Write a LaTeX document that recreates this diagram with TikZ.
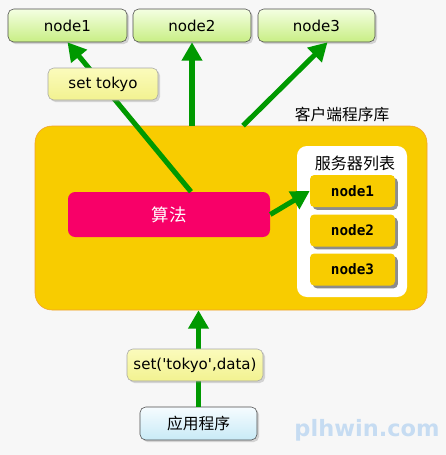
\documentclass[tikz,border=0pt]{standalone}
\usepackage{fontspec}
\setmainfont{DejaVu Sans}
\setmonofont{DejaVu Sans Mono}
\newfontfamily\cjk{Noto Sans CJK SC}
\usetikzlibrary{arrows.meta,shadows}
\definecolor{bggray}{HTML}{F7F7F7}
\definecolor{flowgreen}{HTML}{009900}
\definecolor{libgold}{HTML}{F8CC00}
\definecolor{libedge}{HTML}{F0A030}
\definecolor{algopink}{HTML}{F80068}
\definecolor{srvtop}{HTML}{F4FFE2}
\definecolor{srvbot}{HTML}{C8EE84}
\definecolor{notetop}{HTML}{FBFBBC}
\definecolor{notebot}{HTML}{F2F290}
\definecolor{apptop}{HTML}{F6FCFF}
\definecolor{appbot}{HTML}{C8EAF6}
\definecolor{markblue}{HTML}{C6DCF2}
\begin{document}
\begin{tikzpicture}[x=0.025cm,y=-0.025cm,
  every node/.style={font=\fontsize{10.7}{13}\selectfont},
  srvbox/.style={draw=black!70,rounded corners=4pt,top color=srvtop,bottom color=srvbot,
    drop shadow={shadow xshift=1.5pt,shadow yshift=-1.5pt,opacity=.3},
    minimum width=118*\pxu,minimum height=33*\pxu},
  notebox/.style={draw=black!35,rounded corners=4pt,top color=notetop,bottom color=notebot,
    drop shadow={shadow xshift=1.5pt,shadow yshift=-1.5pt,opacity=.3},
    minimum height=32*\pxu},
  listbox/.style={fill=libgold,rounded corners=3pt,
    drop shadow={shadow xshift=2pt,shadow yshift=-2pt,fill=black!45,opacity=1},
    minimum width=85*\pxu,minimum height=32*\pxu,
    font=\fontsize{10.2}{12}\selectfont\ttfamily\bfseries},
  flow/.style={draw=flowgreen,line width=3.6pt,-{Triangle[length=13pt,width=14pt]}}]
  \def\pxu{0.025cm}
  \fill[bggray] (0,0) rectangle (446,455);

  \node[draw=libedge,fill=libgold,rounded corners=12pt,
    minimum width=392*\pxu,minimum height=184*\pxu] (lib) at (231,218) {};
  \node[font=\fontsize{11.2}{13}\selectfont\cjk] (libname) at (342,114) {客户端程序库};
  \node[fill=white,rounded corners=7pt,
    minimum width=110*\pxu,minimum height=151*\pxu] (list) at (352,221.5) {};
  \node[font=\fontsize{11.4}{13}\selectfont\cjk] (listname) at (355,163) {服务器列表};
  \node[listbox] (s1) at (352.5,191) {node1};
  \node[listbox] (s2) at (352.5,230.5) {node2};
  \node[listbox] (s3) at (352.5,269.5) {node3};
  \node[fill=algopink,rounded corners=5pt,text=white,
    minimum width=202*\pxu,minimum height=45*\pxu,
    font=\fontsize{12.4}{14}\selectfont\cjk] (algo) at (169,214.5) {算法};

  \node[srvbox,minimum width=119*\pxu] (n1) at (67.5,25.5) {node1};
  \node[srvbox] (n2) at (192,25.5) {node2};
  \node[srvbox,minimum width=117*\pxu] (n3) at (316.5,25.5) {node3};

  \node[draw=black!70,rounded corners=4pt,top color=apptop,bottom color=appbot,
    drop shadow={shadow xshift=1.5pt,shadow yshift=-1.5pt,opacity=.3},
    minimum width=117*\pxu,minimum height=33*\pxu,
    font=\fontsize{11.2}{13}\selectfont\cjk] (app) at (198.5,423.5) {应用程序};

  \draw[flow] ([xshift=22*\pxu]algo.north) -- (n1.south);
  \draw[flow] (lib.north -| n2.south) -- (n2.south);
  \draw[flow] ([xshift=12*\pxu]lib.north) -- ([xshift=11*\pxu]n3.south);
  \draw[flow] (algo.east) -- (s1.west);
  \draw[flow] (app.north) -- (app.north |- lib.south);

  \node[notebox,minimum width=110*\pxu] (settokyo) at (103,84) {set tokyo};
  \node[notebox,minimum width=136*\pxu] (setcall) at (195,365)
    {set(\textquotesingle tokyo\textquotesingle,data)};

  \node[text=markblue,font=\fontsize{16}{18}\selectfont\bfseries] (mark) at (367,430) {plhwin.com};
\end{tikzpicture}
\end{document}
